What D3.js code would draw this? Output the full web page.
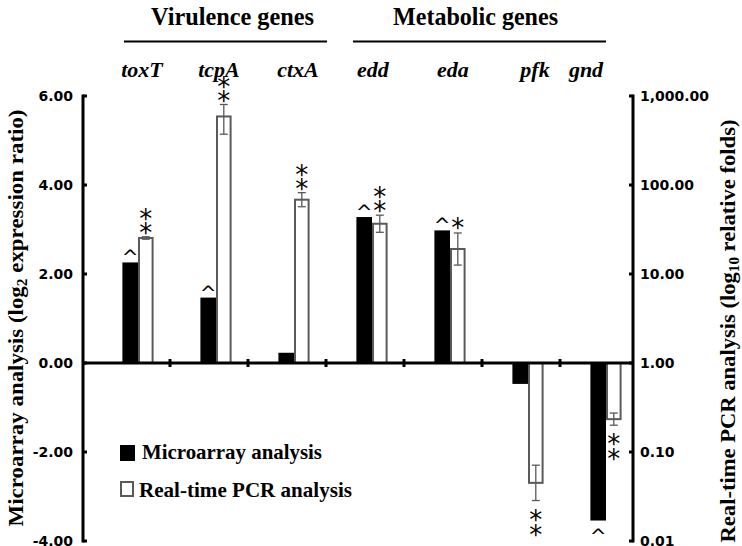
<!DOCTYPE html>
<html>
<head>
<meta charset="utf-8">
<script src="https://cdn.jsdelivr.net/npm/d3@7"></script>
<style>
  html, body { margin: 0; padding: 0; background: #fff; }
  svg { display: block; }
</style>
</head>
<body>
<svg id="chart" width="742" height="546"></svg>
<script>
// ---- data ----
const categories = ["toxT", "tcpA", "ctxA", "edd", "eda", "pfk", "gnd"];
const microarray = [2.26, 1.47, 0.23, 3.28, 2.98, -0.47, -3.54];      // log2 ratio
const pcrFolds   = [25.4, 589, 68.4, 36.7, 19.1, 0.045, 0.234];       // relative folds
const pcrErrLow  = [24.6, 372, 57, 29.4, 12.6, 0.0285, 0.200];
const pcrErrHigh = [26.2, 803, 82, 45.8, 28.9, 0.0711, 0.274];
const microMarks = ["^", "^", "", "^", "^", "", "^"];
const pcrMarks   = ["**", "**", "**", "**", "*", "**", "**"];
const groupNames = ["Virulence genes", "Metabolic genes"];
const groupFrom  = ["toxT", "edd"];
const groupTo    = ["ctxA", "gnd"];
const leftTicks  = [-4, -2, 0, 2, 4, 6];
const rightTicks = [0.01, 0.1, 1, 10, 100, 1000];
const legendLabels = ["Microarray analysis", "Real-time PCR analysis"];

// ---- layout ----
const svg = d3.select("#chart");
const axL = 83, axR = 633, yTop = 96, yBot = 541;
const x = d3.scaleBand().domain(categories).range([99, 645]);
const bw = x.bandwidth() * 0.2;
const cx = c => x(c) + x.bandwidth() / 2;
const yL = d3.scaleLinear().domain([-4, 6]).range([yBot, yTop]);
const yR = d3.scaleLog().domain([0.01, 1000]).range([yBot, yTop]);
const serif = "'Liberation Serif', 'Times New Roman', serif";
const sans = "'DejaVu Sans', Verdana, sans-serif";
const grey = "#5a5a5a";

// ---- bars ----
const rows = categories.map((c, i) => ({c, m: microarray[i], p: pcrFolds[i], lo: pcrErrLow[i], hi: pcrErrHigh[i], mm: microMarks[i], pm: pcrMarks[i]}));

svg.append("g").selectAll("rect").data(rows).join("rect")
  .attr("x", d => cx(d.c) - bw)
  .attr("y", d => Math.min(yL(d.m), yL(0)))
  .attr("width", bw)
  .attr("height", d => Math.abs(yL(d.m) - yL(0)))
  .attr("fill", "#000");

svg.append("g").selectAll("rect").data(rows).join("rect")
  .attr("x", d => cx(d.c) + 1)
  .attr("y", d => Math.min(yR(d.p), yR(1)))
  .attr("width", bw - 2)
  .attr("height", d => Math.abs(yR(d.p) - yR(1)))
  .attr("fill", "#fff")
  .attr("stroke", grey)
  .attr("stroke-width", 2);

// error bars
const eb = svg.append("g").attr("stroke", grey).attr("stroke-width", 1.3).attr("fill", "none");
rows.forEach(d => {
  const ex = cx(d.c) + bw / 2;
  eb.append("line").attr("x1", ex).attr("x2", ex).attr("y1", yR(d.lo)).attr("y2", yR(d.hi));
  eb.append("line").attr("x1", ex - 4).attr("x2", ex + 4).attr("y1", yR(d.lo)).attr("y2", yR(d.lo));
  eb.append("line").attr("x1", ex - 4).attr("x2", ex + 4).attr("y1", yR(d.hi)).attr("y2", yR(d.hi));
});

// ---- axes ----
const axG = svg.append("g").attr("stroke", "#000").attr("stroke-width", 3);
axG.append("line").attr("x1", axL).attr("x2", axL).attr("y1", yTop - 1.5).attr("y2", yBot + 1.5);
axG.append("line").attr("x1", axR).attr("x2", axR).attr("y1", yTop - 1.5).attr("y2", yBot + 1.5);
axG.append("line").attr("x1", axL).attr("x2", axR).attr("y1", yL(0)).attr("y2", yL(0));
leftTicks.forEach(t => axG.append("line").attr("x1", axL).attr("x2", axL + 4).attr("y1", yL(t)).attr("y2", yL(t)));
rightTicks.forEach(t => axG.append("line").attr("x1", axR - 4).attr("x2", axR).attr("y1", yR(t)).attr("y2", yR(t)));
categories.slice(1).forEach(c => axG.append("line").attr("x1", x(c) - 7).attr("x2", x(c) - 7).attr("y1", yL(0) - 4).attr("y2", yL(0) + 4));

const fmtL = d => d3.format(".2f")(d).replace("\u2212", "-");
svg.append("g").selectAll("text").data(leftTicks).join("text")
  .attr("x", axL - 10).attr("y", d => yL(d)).attr("dy", "0.33em")
  .attr("text-anchor", "end").attr("font-family", sans).attr("font-weight", "bold").attr("font-size", 14)
  .text(fmtL);

svg.append("g").selectAll("text").data(rightTicks).join("text")
  .attr("x", axR + 7).attr("y", d => yR(d)).attr("dy", "0.33em")
  .attr("text-anchor", "start").attr("font-family", sans).attr("font-weight", "bold").attr("font-size", 14)
  .text(d => d3.format(",.2f")(d));

// axis titles
const lt = svg.append("text").attr("transform", `translate(23,318) rotate(-90)`)
  .attr("text-anchor", "middle").attr("font-family", serif).attr("font-weight", "bold").attr("font-size", 21)
  .attr("textLength", 417).attr("lengthAdjust", "spacingAndGlyphs");
lt.append("tspan").text("Microarray analysis  (log");
lt.append("tspan").attr("font-size", 14).attr("dy", 4).text("2");
lt.append("tspan").attr("dy", -4).text(" expression ratio)");

const rt = svg.append("text").attr("transform", `translate(735,331) rotate(-90)`)
  .attr("text-anchor", "middle").attr("font-family", serif).attr("font-weight", "bold").attr("font-size", 21)
  .attr("textLength", 423).attr("lengthAdjust", "spacingAndGlyphs");
rt.append("tspan").text("Real-time PCR analysis (log");
rt.append("tspan").attr("font-size", 14).attr("dy", 4).text("10");
rt.append("tspan").attr("dy", -4).text(" relative folds)");

// ---- significance marks ----
const mk = svg.append("g").attr("font-family", sans).attr("text-anchor", "middle");
const astSize = 26, astMid = 0.585 * astSize;
rows.forEach(d => {
  if (d.mm) {
    const bx = cx(d.c) - bw / 2;
    const yy = d.m >= 0 ? yL(d.m) + 2 : yL(d.m) + 22;
    mk.append("text").attr("x", bx).attr("y", yy).attr("font-size", 20).text(d.mm);
  }
  if (d.pm) {
    const ex = cx(d.c) + bw / 2;
    const n = d.pm.length;
    for (let k = 0; k < n; k++) {
      let c;
      if (d.p >= 1) c = yR(d.hi) - (n === 1 ? 11 : 10 + k * 14);
      else c = yR(d.lo) + 13 + k * 15;
      mk.append("text").attr("x", ex).attr("y", c + astMid).attr("font-size", astSize).text("*");
    }
  }
});

// ---- header ----
const labelDx = [4, 3, 4, 1, 3, 7, -20];
svg.append("g").selectAll("text").data(categories).join("text")
  .attr("x", (d, i) => cx(d) + labelDx[i]).attr("y", 77)
  .attr("text-anchor", "middle").attr("font-family", serif).attr("font-weight", "bold").attr("font-style", "italic").attr("font-size", 22)
  .text(d => d);

const lineStart = [-14, -19], lineEnd = [33, 0], titleDx = [7, -4], titleLen = [163, 165];
groupNames.forEach((g, i) => {
  const x1 = cx(groupFrom[i]) + lineStart[i], x2 = cx(groupTo[i]) + lineEnd[i];
  svg.append("line").attr("x1", x1).attr("x2", x2).attr("y1", 41.5).attr("y2", 41.5).attr("stroke", "#000").attr("stroke-width", 2);
  svg.append("text").attr("x", (x1 + x2) / 2 + titleDx[i]).attr("y", 25).attr("text-anchor", "middle")
    .attr("font-family", serif).attr("font-weight", "bold").attr("font-size", 25)
    .attr("textLength", titleLen[i]).attr("lengthAdjust", "spacingAndGlyphs").text(g);
});

// ---- legend ----
const lg = svg.append("g");
lg.append("rect").attr("x", 120).attr("y", 445).attr("width", 15).attr("height", 16).attr("fill", "#000");
lg.append("rect").attr("x", 121).attr("y", 482).attr("width", 12).attr("height", 14).attr("fill", "#fff").attr("stroke", grey).attr("stroke-width", 2);
const legLen = [180, 213];
lg.selectAll("text").data(legendLabels).join("text")
  .attr("x", (d, i) => i === 0 ? 142 : 139).attr("y", (d, i) => i === 0 ? 459 : 497)
  .attr("font-family", serif).attr("font-weight", "bold").attr("font-size", 22)
  .attr("textLength", (d, i) => legLen[i]).attr("lengthAdjust", "spacingAndGlyphs").text(d => d);
</script>
</body>
</html>
